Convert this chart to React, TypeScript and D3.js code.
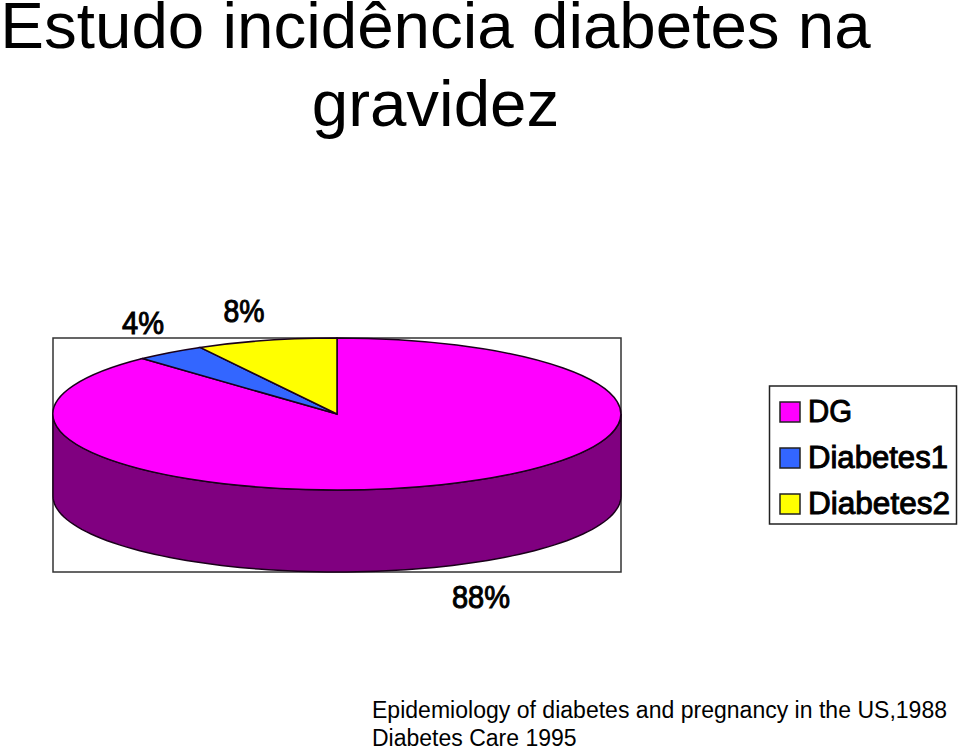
import * as d3 from "d3";

const categories = ["DG", "Diabetes1", "Diabetes2"];
const values = [88, 4, 8];
const sliceColors = ["#ff00ff", "#3366ff", "#ffff00"];
const titleLines = ["Estudo incidência diabetes na", "gravidez"];
const sourceLines = [
  "Epidemiology of diabetes and pregnancy in the US,1988",
  "Diabetes Care 1995",
];

const FONT = "'Liberation Sans', Arial, sans-serif";
const width = 960;
const height = 748;

// plot box of the pseudo 3D pie
const box = { left: 53, right: 621, top: 338, bottom: 572 };
const depth = 82;

// unit circle -> screen, the top face is a squashed circle
const x = d3.scaleLinear().domain([-1, 1]).range([box.left, box.right]);
const y = d3.scaleLinear().domain([-1, 1]).range([box.top, box.bottom - depth]);

const pie = d3.pie<number>().sort(null);
const arcs = pie(values);
const arc = d3.arc<d3.PieArcDatum<number>>().innerRadius(0).outerRadius(1);

// front half of the rim, from right to left
const rimAngles = d3.range(0, 181, 2).map((d) => (d * Math.PI) / 180);
const wall = d3
  .area<number>()
  .x((a) => x(Math.cos(a)))
  .y0((a) => y(Math.sin(a)))
  .y1((a) => y(Math.sin(a)) + depth);

// labels sit outside the pie, not on a regular radius
const labelPositions = [
  { x: 481, y: 608, w: 58 },
  { x: 143, y: 334, w: 42 },
  { x: 244, y: 322, w: 41 },
];

const legendY = d3.scalePoint<string>().domain(categories).range([412, 504]);
const legendWidths = [44, 140, 142];

export default function App() {
  return (
    <svg
      width={width}
      height={height}
      style={{ position: "absolute", left: 0, top: 0, background: "#fff" }}
      fontFamily={FONT}
    >
      {titleLines.map((t, i) => (
        <text key={t} x={435.5} y={48 + i * 78} fontSize={65.5} textAnchor="middle" fill="#000">
          {t}
        </text>
      ))}

      <rect
        x={box.left}
        y={box.top}
        width={box.right - box.left}
        height={box.bottom - box.top}
        fill="none"
        stroke="#333"
        strokeWidth={1.5}
      />

      <path d={wall(rimAngles) ?? ""} fill="#800080" stroke="#1a001a" strokeWidth={1.5} />

      <g transform={`translate(${x(0)},${y(0)}) scale(${x(1) - x(0)},${y(1) - y(0)})`}>
        {arcs.map((d, i) => (
          <path
            key={categories[i]}
            d={arc(d) ?? ""}
            fill={sliceColors[i]}
            stroke="#1a001a"
            strokeWidth={1.5}
            vectorEffect="non-scaling-stroke"
          />
        ))}
      </g>

      {arcs.map((d, i) => (
        <text
          key={categories[i]}
          x={labelPositions[i].x - labelPositions[i].w / 2}
          y={labelPositions[i].y}
          fontSize={31}
          fill="#000"
          stroke="#000"
          strokeWidth={1}
          textLength={labelPositions[i].w}
          lengthAdjust="spacingAndGlyphs"
        >
          {d.value}%
        </text>
      ))}

      <rect x={769.5} y={386} width={187} height={138} fill="#fff" stroke="#222" strokeWidth={1.5} />
      {categories.map((c, i) => (
        <g key={c} transform={`translate(0,${legendY(c)})`}>
          <rect x={780} y={-10} width={20} height={20} fill={sliceColors[i]} stroke="#222" strokeWidth={1.5} />
          <text
            x={808}
            y={10}
            fontSize={31}
            fill="#000"
            stroke="#000"
            strokeWidth={1}
            textLength={legendWidths[i]}
            lengthAdjust="spacingAndGlyphs"
          >
            {c}
          </text>
        </g>
      ))}

      {sourceLines.map((t, i) => (
        <text
          key={t}
          x={372}
          y={718 + i * 28}
          fontSize={23}
          fill="#000"
          textLength={i === 0 ? 575 : undefined}
        >
          {t}
        </text>
      ))}
    </svg>
  );
}
